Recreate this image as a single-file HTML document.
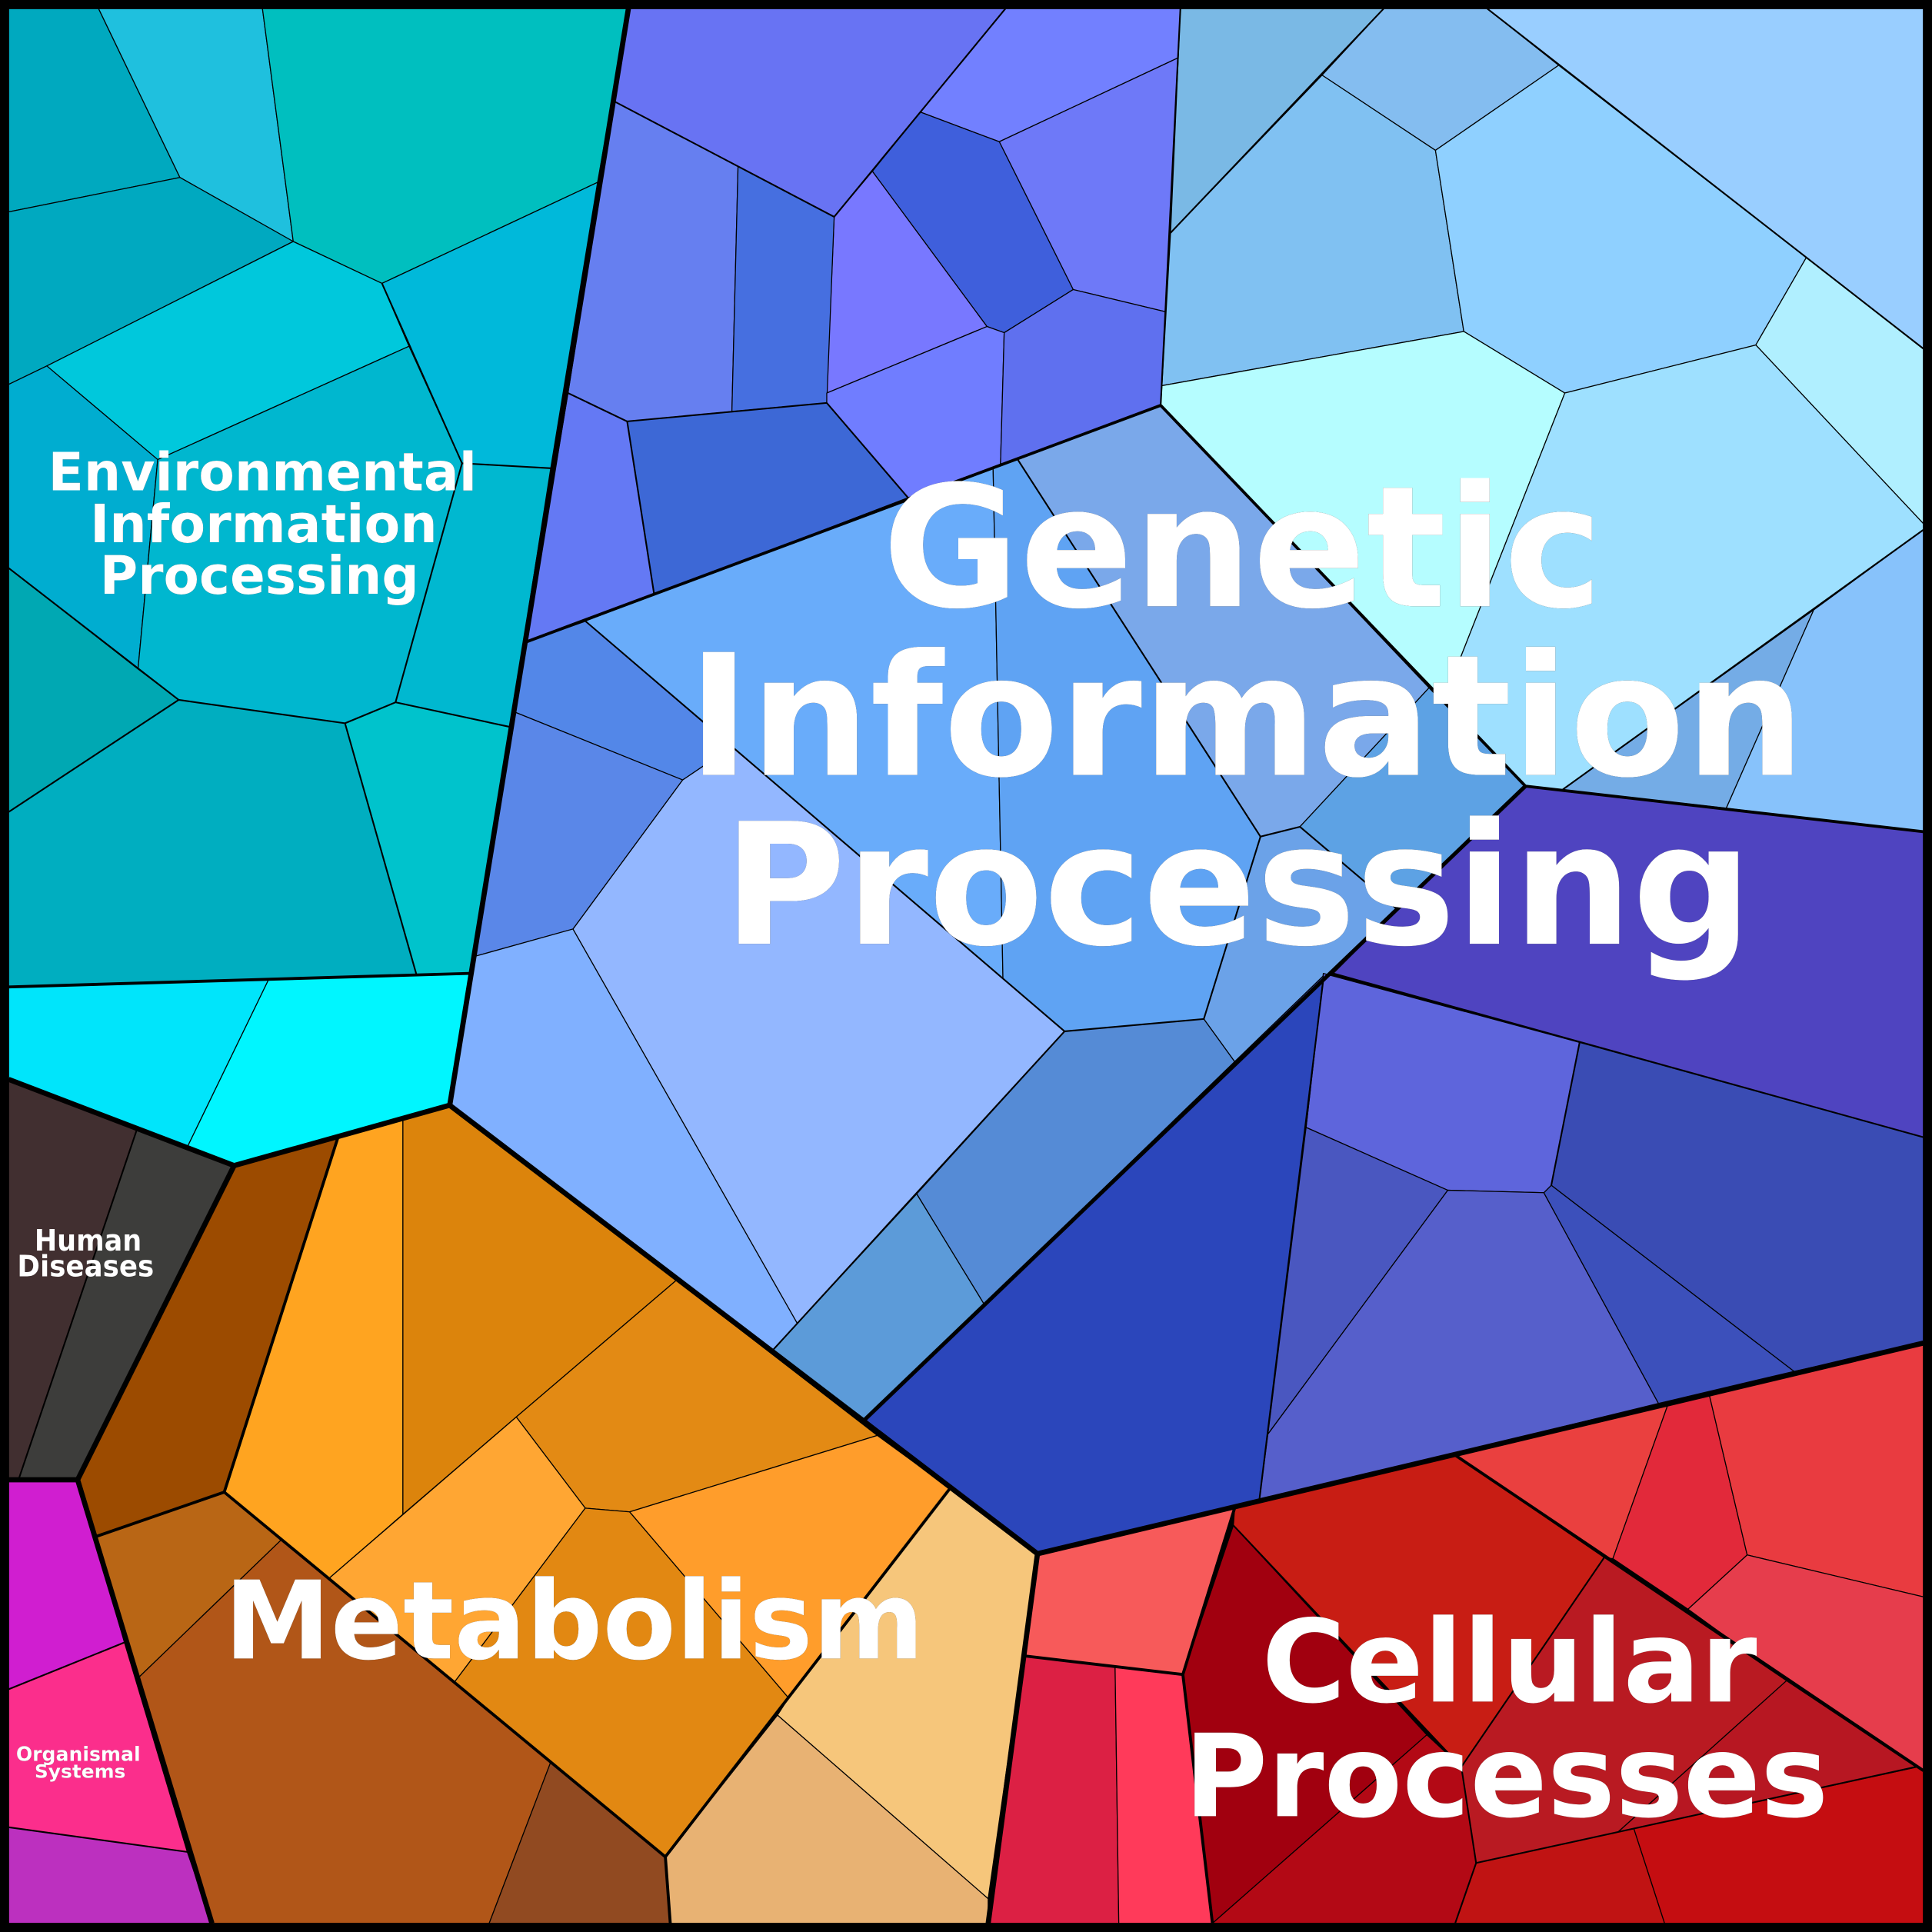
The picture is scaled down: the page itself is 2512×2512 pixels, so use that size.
<!DOCTYPE html>
<html><head><meta charset="utf-8"><style>
html,body{margin:0;padding:0;background:#000}
svg{display:block}
.c polygon{stroke:#000;stroke-width:.8;stroke-linejoin:round}
.l polyline{fill:none;stroke:#000;stroke-linejoin:round}
text{font-family:"DejaVu Sans","Liberation Sans",sans-serif;font-weight:bold;fill:#fff;text-anchor:start}
.t{filter:drop-shadow(.8px .8px 0 #000)}
</style></head><body>
<svg xmlns="http://www.w3.org/2000/svg" width="2512" height="2512" viewBox="0 0 1568 1568">
<rect width="1568" height="1568" fill="#000"/>
<g class="c">
<!-- Environmental -->
<polygon fill="#00a9bf" points="7,7 80,7 146,144 7,172"/>
<polygon fill="#1fc0de" points="80,7 213,7 238,196 146,144"/>
<polygon fill="#00bfbf" points="213,7 510,7 485,148 310,230 238,196"/>
<polygon fill="#00a9c0" points="7,172 146,144 238,196 38,297 7,312"/>
<polygon fill="#00c8dc" points="238,196 310,230 332,281 128,373 38,297"/>
<polygon fill="#00b9da" points="310,230 485,148 447,380 375,376 332,281"/>
<polygon fill="#00add0" points="7,312 38,297 128,373 112,543 7,461"/>
<polygon fill="#00b7cf" points="128,373 332,281 375,376 321,570 280,587 145,568 112,543"/>
<polygon fill="#00b8d0" points="375,376 447,380 414,590 321,570"/>
<polygon fill="#00a8b3" points="7,461 112,543 145,568 7,659"/>
<polygon fill="#00aec0" points="145,568 280,587 338,791 7,801 7,659"/>
<polygon fill="#00c3cc" points="280,587 321,570 414,590 381,790 338,791"/>
<polygon fill="#00e5fb" points="7,801 218,795 152,931 7,876"/>
<polygon fill="#00f6ff" points="218,795 381,790 365,897 190,946 152,931"/>
<!-- Genetic top-left -->
<polygon fill="#6873f3" points="510,7 816,7 677,176 498,82"/>
<polygon fill="#7280ff" points="816,7 958,7 956,47 811,115 747,91"/>
<polygon fill="#6e79f8" points="811,115 956,47 946,253 871,235"/>
<polygon fill="#3f5fdc" points="747,91 811,115 871,235 815,270 801,265 708,139"/>
<polygon fill="#7878ff" points="708,139 801,265 671,319 677,176"/>
<polygon fill="#667ff0" points="498,82 599,135 594,334 509,342 461,319"/>
<polygon fill="#466fe0" points="599,135 677,176 671,327 594,334"/>
<polygon fill="#707dff" points="671,319 801,265 815,270 812,377 737,404 671,327"/>
<polygon fill="#5f70ef" points="815,270 871,235 946,253 942,329 812,377"/>
<polygon fill="#6479f4" points="461,319 509,342 531,483 427,521"/>
<polygon fill="#3d68d6" points="509,342 594,334 671,327 737,404 531,483"/>
<!-- Center -->
<polygon fill="#69acfa" points="475,504 737,404 806,380 814,795"/>
<polygon fill="#5fa3f3" points="806,380 826,373 1023,679 977,827 864,837 814,795"/>
<polygon fill="#7aa8ea" points="826,373 942,329 1160,558 1055,671 1023,679"/>
<polygon fill="#5da2e4" points="1160,558 1238,638 1134,738 1055,671"/>
<polygon fill="#6ba2e8" points="1023,679 1055,671 1134,738 1003,863 977,827"/>
<polygon fill="#558bd6" points="864,837 977,827 1003,863 799,1059 744,969"/>
<polygon fill="#5c9bd9" points="744,969 799,1059 702,1152 627,1096"/>
<polygon fill="#93b7ff" points="554,633 594,606 864,837 647,1074 465,754"/>
<polygon fill="#5387e8" points="475,504 594,606 554,633 418,578 427,521"/>
<polygon fill="#5a87e8" points="418,578 554,633 465,754 386,776"/>
<polygon fill="#80b0ff" points="386,776 465,754 647,1074 627,1096 365,897"/>
<!-- Top right -->
<polygon fill="#7ab9e5" points="958,7 1123,7 1073,61 950,189"/>
<polygon fill="#84bdf0" points="1123,7 1207,7 1265,53 1165,122 1073,61"/>
<polygon fill="#99ceff" points="1207,7 1561,7 1561,283 1466,209"/>
<polygon fill="#80c1f2" points="1073,61 1165,122 1188,269 943,313 950,189"/>
<polygon fill="#8fd0ff" points="1165,122 1265,53 1466,209 1425,280 1270,319 1188,269"/>
<polygon fill="#b0efff" points="1466,209 1561,283 1561,425 1425,280"/>
<polygon fill="#b5fdff" points="943,313 1188,269 1270,319 1171,570 942,329"/>
<polygon fill="#9ee0ff" points="1270,319 1425,280 1561,425 1561,430 1472,495 1268,641 1238,638 1171,570"/>
<polygon fill="#74ace6" points="1472,495 1401,656 1268,641"/>
<polygon fill="#87c2fb" points="1561,430 1561,675 1401,656 1472,495"/>
<!-- Purple -->
<polygon fill="#4f44c0" points="1238,638 1561,675 1561,923 1282,846 1082,790 1134,738"/>
<polygon fill="#5e65dc" points="1074,790 1282,846 1259,962 1253,968 1175,966 1060,915"/>
<polygon fill="#3a4cb4" points="1282,846 1561,923 1561,1090 1456,1113 1259,962"/>
<polygon fill="#2b46bb" points="1074,792 1060,915 1029,1164 1022,1218 842,1261 702,1152"/>
<polygon fill="#4a57c0" points="1060,915 1175,966 1029,1164"/>
<polygon fill="#565fcb" points="1175,966 1253,968 1346,1139 1022,1218 1029,1164"/>
<polygon fill="#3c50bb" points="1253,968 1259,962 1456,1113 1346,1139"/>
<!-- Red -->
<polygon fill="#f75a5a" points="842,1261 1002,1224 960,1359 832,1344"/>
<polygon fill="#dc2044" points="832,1344 905,1353 908,1561 802,1561"/>
<polygon fill="#ff3a5a" points="905,1353 960,1359 984,1561 908,1561"/>
<polygon fill="#c81d14" points="1001,1238 1002,1224 1181,1181 1302,1264 1186,1434"/>
<polygon fill="#a1000f" points="1001,1238 1158,1408 984,1561 960,1359"/>
<polygon fill="#b30915" points="1158,1408 1186,1434 1198,1512 1181,1561 984,1561"/>
<polygon fill="#b91a22" points="1302,1264 1450,1364 1313,1487 1198,1512 1186,1434"/>
<polygon fill="#b71722" points="1450,1364 1555,1434 1326,1484 1313,1487"/>
<polygon fill="#c01313" points="1198,1512 1326,1484 1351,1561 1181,1561"/>
<polygon fill="#c50d11" points="1326,1484 1561,1433 1561,1561 1351,1561"/>
<polygon fill="#ea403f" points="1181,1181 1354,1139 1309,1265 1302,1264"/>
<polygon fill="#e2293a" points="1354,1139 1387,1131 1418,1262 1370,1306 1309,1265"/>
<polygon fill="#e93b40" points="1387,1131 1561,1090 1561,1296 1418,1262"/>
<polygon fill="#e63d4c" points="1370,1306 1418,1262 1561,1296 1561,1437 1555,1434 1450,1364"/>
<!-- Metabolism -->
<polygon fill="#9c4b00" points="190,946 274,924 182,1211 78,1247 63,1201"/>
<polygon fill="#ffa420" points="274,924 327,909 327,1229 267,1281 182,1211"/>
<polygon fill="#dc840c" points="327,909 365,897 549,1039 419,1150 327,1229"/>
<polygon fill="#e38a14" points="549,1039 712,1165 511,1227 475,1224 419,1150"/>
<polygon fill="#ffa633" points="419,1150 475,1224 369,1365 267,1281"/>
<polygon fill="#e28812" points="475,1224 511,1227 640,1378 540,1507 369,1365"/>
<polygon fill="#ff9d2b" points="511,1227 712,1165 771,1208 640,1378"/>
<polygon fill="#f6c67b" points="771,1208 842,1261 802,1541 631,1392 640,1378"/>
<polygon fill="#e8b273" points="631,1392 802,1541 802,1561 544,1561 540,1507"/>
<polygon fill="#b96615" points="78,1247 182,1211 228,1250 113,1361"/>
<polygon fill="#b15618" points="228,1250 447,1430 397,1561 172,1561 113,1361"/>
<polygon fill="#914a21" points="447,1430 540,1507 544,1561 397,1561"/>
<!-- Human / Organismal -->
<polygon fill="#412f30" points="7,876 111,917 15,1201 7,1201"/>
<polygon fill="#3d3d3b" points="111,917 190,946 63,1201 15,1201"/>
<polygon fill="#d01ed0" points="7,1201 63,1201 101,1333 7,1371"/>
<polygon fill="#fb2e8c" points="7,1371 101,1333 152,1503 7,1483"/>
<polygon fill="#bc30bf" points="7,1483 152,1503 172,1561 7,1561"/>
</g>
<g class="l">
<g stroke-width="1.3">
<polyline points="7,659 145,568 7,461"/>
<polyline points="145,568 280,587 321,570 414,590"/>
<polyline points="280,587 338,791"/>
<polyline points="375,376 321,570"/>
<polyline points="375,376 447,380"/>
<polyline points="310,230 375,376"/>
<polyline points="1082,790 1561,923"/>
<polyline points="1282,846 1259,962"/>
<polyline points="1074,795 1022,1218"/>
<polyline points="475,504 427,521"/>
<polyline points="475,504 864,837 977,827 1023,679 1055,671 1134,738"/>
<polyline points="826,373 1023,679"/>
<polyline points="864,837 627,1096"/>
<polyline points="1207,7 1561,283"/>
<polyline points="1561,430 1268,641"/>
<polyline points="958,7 942,329"/>
<polyline points="1123,7 950,189"/>
<polyline points="111,917 15,1201"/>
<polyline points="7,1371 101,1333"/>
<polyline points="7,1483 152,1503"/>
<polyline points="1001,1238 1186,1434 1198,1512 1181,1561"/>
<polyline points="1302,1264 1186,1434"/>
<polyline points="1198,1512 1555,1434"/>
<polyline points="498,82 677,176 816,7"/>
<polyline points="461,319 509,342 531,483"/>
<polyline points="509,342 671,327 737,404"/>
</g>
<g stroke-width="2.4">
<polyline points="7,801 381,790"/>
<polyline points="942,329 1238,638 1561,675"/>
<polyline points="942,329 427,521"/>
<polyline points="1181,1181 1561,1437"/>
<polyline points="832,1344 960,1359"/>
<polyline points="1002,1224 960,1359 984,1561"/>
<polyline points="771,1208 540,1507 544,1561"/>
<polyline points="182,1211 540,1507"/>
<polyline points="78,1247 182,1211 274,924"/>
</g>
<g stroke-width="3.2">
<polyline points="702,1152 1238,638"/>
</g>
<g stroke-width="4.2">
<polyline points="510,7 365,897"/>
<polyline points="7,876 190,946 365,897 842,1261"/>
<polyline points="7,1201 63,1201 190,946"/>
<polyline points="63,1201 172,1561"/>
<polyline points="842,1261 1561,1090"/>
<polyline points="842,1261 802,1561"/>
</g>
</g>
<rect x="3.5" y="3.5" width="1561" height="1561" fill="none" stroke="#000" stroke-width="7"/>
<g class="t">
<text x="716" y="492" font-size="137" textLength="585" lengthAdjust="spacingAndGlyphs">Genetic</text>
<text x="558" y="629" font-size="137" textLength="907" lengthAdjust="spacingAndGlyphs">Information</text>
<text x="587" y="766" font-size="137" textLength="835" lengthAdjust="spacingAndGlyphs">Processing</text>
<text x="39" y="398" font-size="43" textLength="348" lengthAdjust="spacingAndGlyphs">Environmental</text>
<text x="73" y="440" font-size="43" textLength="282" lengthAdjust="spacingAndGlyphs">Information</text>
<text x="81" y="482" font-size="43" textLength="259" lengthAdjust="spacingAndGlyphs">Processing</text>
<text x="28" y="1015" font-size="24" textLength="87" lengthAdjust="spacingAndGlyphs">Human</text>
<text x="14" y="1036" font-size="24" textLength="111" lengthAdjust="spacingAndGlyphs">Diseases</text>
<text x="13" y="1429" font-size="16" textLength="101" lengthAdjust="spacingAndGlyphs">Organismal</text>
<text x="28" y="1443" font-size="15" textLength="74" lengthAdjust="spacingAndGlyphs">Systems</text>
<text x="182" y="1346" font-size="88" textLength="568" lengthAdjust="spacingAndGlyphs">Metabolism</text>
<text x="1024" y="1381" font-size="93" textLength="402" lengthAdjust="spacingAndGlyphs">Cellular</text>
<text x="961" y="1474" font-size="93" textLength="523" lengthAdjust="spacingAndGlyphs">Processes</text>
</g>
</svg>
</body></html>
